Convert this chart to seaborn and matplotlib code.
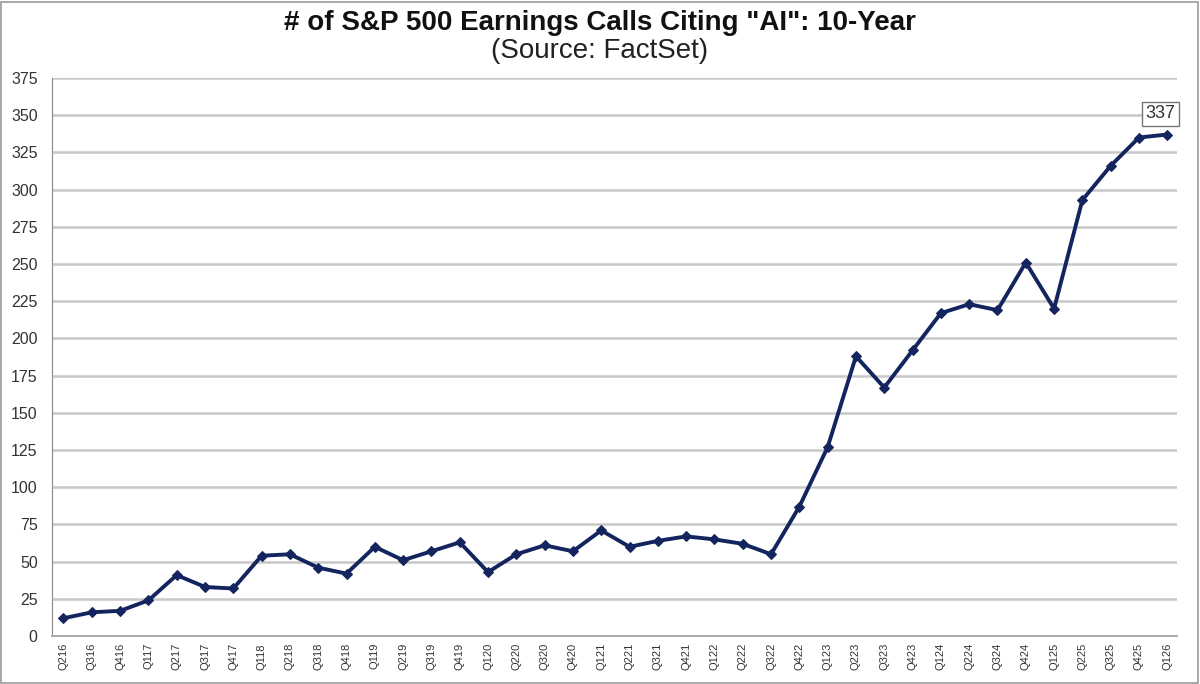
import pandas as pd
import matplotlib.pyplot as plt
import seaborn as sns
from matplotlib.patches import Rectangle

quarters = ['Q216', 'Q316', 'Q416', 'Q117', 'Q217', 'Q317', 'Q417', 'Q118', 'Q218', 'Q318',
            'Q418', 'Q119', 'Q219', 'Q319', 'Q419', 'Q120', 'Q220', 'Q320', 'Q420', 'Q121',
            'Q221', 'Q321', 'Q421', 'Q122', 'Q222', 'Q322', 'Q422', 'Q123', 'Q223', 'Q323',
            'Q423', 'Q124', 'Q224', 'Q324', 'Q424', 'Q125', 'Q225', 'Q325', 'Q425', 'Q126']
ai_calls = [12, 16, 17, 24, 41, 33, 32, 54, 55, 46,
            42, 60, 51, 57, 63, 43, 55, 61, 57, 71,
            60, 64, 67, 65, 62, 55, 87, 127, 188, 167,
            192, 217, 223, 219, 251, 220, 293, 316, 335, 337]
y_ticks = list(range(0, 376, 25))

df = pd.DataFrame({'quarter': quarters, 'calls': ai_calls})
df['pos'] = range(len(df))

sns.set_style('white')
plt.rcParams['font.family'] = ['Liberation Sans', 'DejaVu Sans']

fig = plt.figure(figsize=(12, 6.84), dpi=100)
ax = fig.add_axes([0.043, 0.070, 0.938, 0.816])

ax.yaxis.grid(True, color='#c8c8c8', linewidth=1.8)
ax.set_axisbelow(True)

sns.lineplot(data=df, x='pos', y='calls', ax=ax, color='#14245e', linewidth=2.8,
             marker='D', markersize=5.5, markeredgecolor='#14245e')

ax.set_ylim(0, 375)
ax.set_yticks(y_ticks)
ax.set_xlim(-0.42, len(quarters) - 0.65)
ax.set_xticks(df['pos'])
ax.set_xticklabels(quarters, rotation=90, fontsize=8, color='#333333')
ax.tick_params(axis='y', labelsize=11.5, colors='#333333', length=0, pad=10)
ax.tick_params(axis='x', length=0, pad=5)
ax.set_xlabel('')
ax.set_ylabel('')

for side in ['top', 'right']:
    ax.spines[side].set_visible(False)
ax.spines['left'].set_color('#888888')
ax.spines['bottom'].set_color('#aaaaaa')
ax.spines['bottom'].set_linewidth(1.4)

last = len(quarters) - 1
ax.annotate(str(ai_calls[last]), xy=(last, ai_calls[last]), xytext=(-5, 15),
            textcoords='offset points', ha='center', va='center', fontsize=13, color='#333333',
            bbox=dict(boxstyle='square,pad=0.2', facecolor='white', edgecolor='#777777', linewidth=1))

fig.text(0.5, 0.966, '# of S&P 500 Earnings Calls Citing "AI": 10-Year', ha='center', va='center',
         fontsize=20, fontweight='bold', color='#111111')
fig.text(0.5, 0.925, '(Source: FactSet)', ha='center', va='center', fontsize=20, color='#222222')

fig.patches.append(Rectangle((0.001, 0.002), 0.997, 0.995, transform=fig.transFigure,
                             fill=False, edgecolor='#999999', linewidth=1.2))

plt.savefig('out.png', dpi=100)
